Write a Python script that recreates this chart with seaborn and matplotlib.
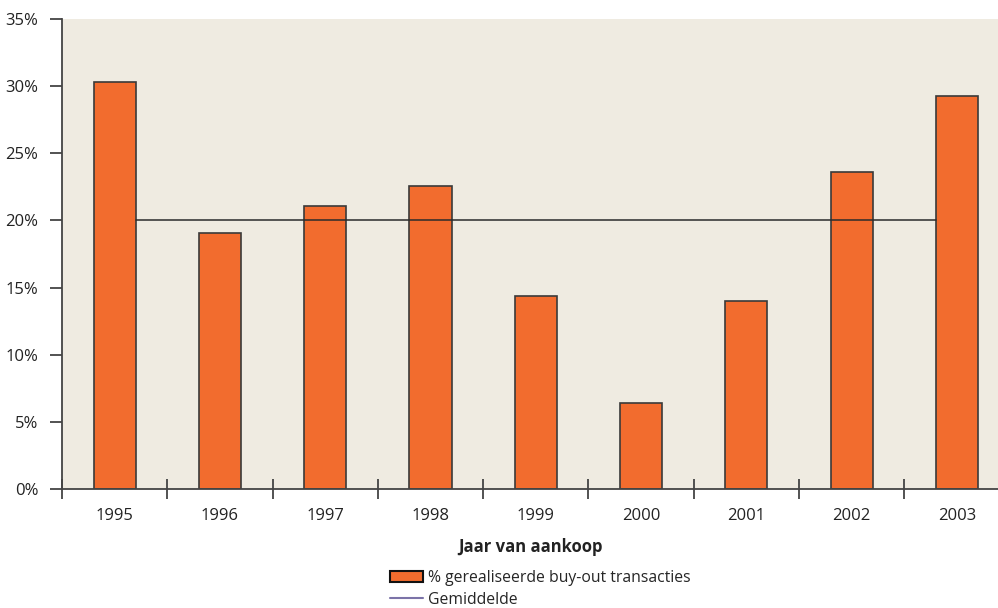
import matplotlib
matplotlib.use("Agg")
import matplotlib.pyplot as plt
from matplotlib.patches import Patch
from matplotlib.lines import Line2D
from matplotlib.ticker import FixedLocator, FuncFormatter
import numpy as np
import pandas as pd
import seaborn as sns

# data
years = ["1995", "1996", "1997", "1998", "1999", "2000", "2001", "2002", "2003"]
pct_buyout = [30.3, 19.1, 21.1, 22.6, 14.4, 6.4, 14.0, 23.6, 29.3]
average = 20.0

bar_label = "% gerealiseerde buy-out transacties"
avg_label = "Gemiddelde"
x_title = "Jaar van aankoop"

df = pd.DataFrame({"jaar": years, "pct": pct_buyout})

sns.set_style("white")
plt.rcParams["font.family"] = ["Open Sans", "DejaVu Sans"]

bar_color = "#F26C2E"
edge_color = "#3a3a3a"
bg_color = "#EFEBE1"

fig = plt.figure(figsize=(9.98, 6.08), dpi=100)
ax = fig.add_axes([0.0621, 0.1957, 0.938, 0.773])
ax.set_facecolor(bg_color)

sns.barplot(data=df, x="jaar", y="pct", color=bar_color, width=0.4,
            edgecolor=edge_color, linewidth=1.2, saturation=1, ax=ax)

# average line runs from right edge of first bar to left edge of last bar
ax.plot([0.2, len(years) - 1.2], [average, average], color="#2b2b2b", lw=1.1, zorder=5)

ax.set_xlim(-0.5, 8.39)
ax.set_ylim(0, 35)
ax.yaxis.set_major_locator(FixedLocator(np.arange(0, 36, 5)))
ax.yaxis.set_major_formatter(FuncFormatter(lambda v, p: f"{int(v)}%"))

for s in ["top", "right"]:
    ax.spines[s].set_visible(False)
for s in ["left", "bottom"]:
    ax.spines[s].set_color("#444444")
    ax.spines[s].set_linewidth(1.3)

ax.tick_params(axis="y", which="major", direction="out", length=9, width=1.3,
               color="#444444", labelsize=12, labelcolor="#222222", pad=8, left=True)
ax.tick_params(axis="x", which="major", length=0, labelsize=12, labelcolor="#222222", pad=14)
ax.xaxis.set_minor_locator(FixedLocator(np.arange(-0.5, 9, 1.0)))
ax.tick_params(axis="x", which="minor", direction="inout", length=14, width=1.3,
               color="#444444", bottom=True)

ax.set_xlabel(x_title, fontsize=12, fontweight="bold", color="#222222", labelpad=10)
ax.set_ylabel("")

handles = [Patch(facecolor=bar_color, edgecolor="#111111", linewidth=1.5),
           Line2D([0], [0], color="#7B73A8", lw=1.5)]
fig.legend(handles, [bar_label, avg_label], loc="upper left",
           bbox_to_anchor=(0.391, 0.063), frameon=False, fontsize=11.3,
           handlelength=2.1, handletextpad=0.3, labelspacing=0.4,
           borderaxespad=0, borderpad=0)

fig.savefig("out.png", dpi=100)
